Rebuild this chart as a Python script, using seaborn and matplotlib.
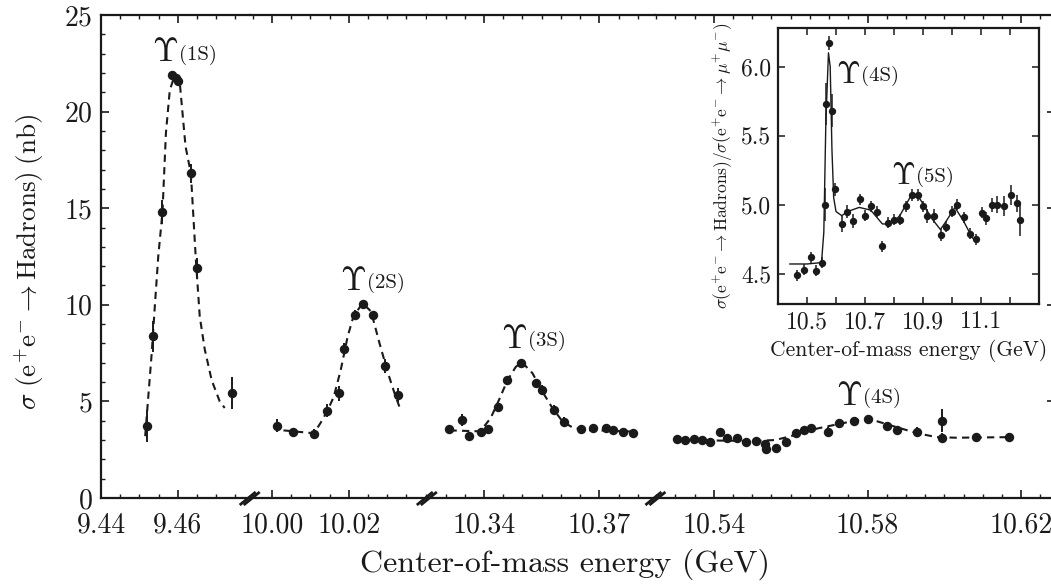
import matplotlib
matplotlib.use("Agg")
import matplotlib.pyplot as plt
import seaborn as sns
import numpy as np
from matplotlib.ticker import FixedLocator, MultipleLocator

# ---------------- data ----------------
# Segment 1: Upsilon(1S)
s1_x = [9.4519, 9.4536, 9.4560, 9.4586, 9.4594, 9.4600, 9.4634, 9.4649, 9.4740]
s1_y = [3.73, 8.36, 14.8, 21.9, 21.75, 21.6, 16.8, 11.9, 5.42]
s1_err = [0.85, 0.8, 0.6, 0.2, 0.2, 0.2, 0.5, 0.5, 0.82]
s1_fit_x = [9.4515, 9.4532, 9.4540, 9.4549, 9.4560, 9.4569, 9.4579, 9.4592, 9.4605,
            9.4620, 9.4634, 9.4647, 9.4657, 9.4670, 9.4688, 9.4709, 9.4722]
s1_fit_y = [3.2, 7.5, 9.9, 12.5, 14.8, 18.9, 21.1, 21.9, 21.5,
            18.2, 16.8, 12.3, 9.4, 7.7, 6.1, 5.0, 4.66]

# Segment 2: Upsilon(2S)
s2_x = [10.0012, 10.0056, 10.0109, 10.0144, 10.0175, 10.0188, 10.0216, 10.0238,
        10.0262, 10.0293, 10.0328]
s2_y = [3.75, 3.44, 3.32, 4.52, 5.42, 7.7, 9.48, 10.03, 9.48, 6.84, 5.34]
s2_err = [0.35, 0.2, 0.25, 0.35, 0.4, 0.3, 0.25, 0.2, 0.2, 0.35, 0.35]
s2_fit_x = [10.0030, 10.0109, 10.0126, 10.0144, 10.0161, 10.0179, 10.0197, 10.0212,
            10.0236, 10.0258, 10.0280, 10.0302, 10.0319, 10.0333]
s2_fit_y = [3.5, 3.35, 3.87, 4.5, 5.25, 6.63, 8.36, 9.4, 10.09, 9.65, 8.0, 6.46, 5.42, 4.65]

# Segment 3: Upsilon(3S)
s3_x = [10.3309, 10.3343, 10.3361, 10.3391, 10.3409, 10.3435, 10.3461, 10.3496,
        10.3535, 10.3552, 10.3583, 10.3609, 10.3652, 10.3683, 10.3718, 10.3735,
        10.3761, 10.3787]
s3_y = [3.56, 4.04, 3.21, 3.44, 3.56, 4.73, 6.11, 7.01, 5.94, 5.6, 4.56, 3.95,
        3.56, 3.61, 3.61, 3.52, 3.44, 3.38]
s3_err = [0.2, 0.3, 0.2, 0.2, 0.2, 0.2, 0.2, 0.15, 0.2, 0.25, 0.25, 0.25,
          0.2, 0.2, 0.2, 0.2, 0.2, 0.2]
s3_fit_x = [10.3310, 10.3390, 10.3417, 10.3439, 10.3461, 10.3483, 10.3500, 10.3526,
            10.3552, 10.3578, 10.3604, 10.3631, 10.3666, 10.3787]
s3_fit_y = [3.5, 3.45, 4.13, 5.08, 6.1, 6.8, 7.0, 6.46, 5.5, 4.65, 3.97, 3.64, 3.52, 3.44]

# Segment 4: Upsilon(4S)
s4_x = [10.5305, 10.5326, 10.5348, 10.5369, 10.5390, 10.5416, 10.5434, 10.5460,
        10.5485, 10.5511, 10.5532, 10.5537, 10.5563, 10.5588, 10.5614, 10.5636,
        10.5653, 10.5696, 10.5726, 10.5765, 10.5800, 10.5851, 10.5877, 10.5930,
        10.5993, 10.5993, 10.6083, 10.6169]
s4_y = [3.04, 3.0, 3.04, 3.0, 2.92, 3.44, 3.09, 3.09, 2.92, 2.97, 2.8, 2.52,
        2.57, 2.92, 3.35, 3.52, 3.61, 3.44, 3.87, 4.0, 4.08, 3.73, 3.52, 3.44,
        4.0, 3.09, 3.18, 3.18]
s4_err = [0.15, 0.15, 0.15, 0.15, 0.15, 0.2, 0.2, 0.15, 0.15, 0.15, 0.15, 0.2,
          0.2, 0.2, 0.2, 0.2, 0.2, 0.25, 0.2, 0.15, 0.15, 0.2, 0.2, 0.25,
          0.6, 0.25, 0.2, 0.2]
s4_fit_x = [10.5310, 10.5500, 10.5560, 10.5620, 10.5670, 10.5730, 10.5780, 10.5820,
            10.5870, 10.5930, 10.5980, 10.6030, 10.6170]
s4_fit_y = [3.0, 2.95, 3.0, 3.3, 3.6, 3.85, 4.05, 4.0, 3.7, 3.35, 3.15, 3.12, 3.15]

seg_limits = [(9.440, 9.4787), (9.9942, 10.0403), (10.3251, 10.3846), (10.5248, 10.6288)]
seg_ticks = [[9.44, 9.46], [10.00, 10.02], [10.34, 10.37], [10.54, 10.58, 10.62]]
seg_ticklabels = [["9.44", "9.46"], ["10.00", "10.02"], ["10.34", "10.37"],
                  ["10.54", "10.58", "10.62"]]
main_yticks = [0, 5, 10, 15, 20, 25]

peak_labels = ["(1S)", "(2S)", "(3S)", "(4S)"]
peak_label_x = [9.4566, 10.0210, 10.3478, 10.5751]
peak_label_y = [22.6, 10.78, 7.77, 4.82]

# Inset: R ratio around Upsilon(4S) and Upsilon(5S)
ins_x = [10.467, 10.489, 10.513, 10.530, 10.551, 10.562, 10.567, 10.576, 10.585,
         10.597, 10.620, 10.639, 10.659, 10.682, 10.700, 10.720, 10.743, 10.760,
         10.781, 10.800, 10.820, 10.840, 10.863, 10.884, 10.900, 10.915, 10.938,
         10.961, 10.980, 11.000, 11.017, 11.040, 11.063, 11.084, 11.102, 11.116,
         11.137, 11.156, 11.179, 11.202, 11.225, 11.236]
ins_y = [4.49, 4.53, 4.62, 4.52, 4.58, 5.00, 5.73, 6.17, 5.68,
         5.11, 4.86, 4.95, 4.88, 5.04, 4.92, 4.99, 4.95, 4.70,
         4.87, 4.89, 4.89, 4.99, 5.07, 5.07, 4.99, 4.92, 4.92,
         4.78, 4.84, 4.95, 5.00, 4.91, 4.79, 4.75, 4.94, 4.90,
         5.00, 5.00, 4.99, 5.07, 5.01, 4.89]
ins_err = [0.04, 0.04, 0.04, 0.04, 0.04, 0.12, 0.15, 0.05, 0.12,
           0.05, 0.06, 0.05, 0.05, 0.04, 0.04, 0.04, 0.04, 0.04,
           0.04, 0.04, 0.04, 0.04, 0.04, 0.04, 0.04, 0.05, 0.05,
           0.04, 0.04, 0.04, 0.04, 0.04, 0.04, 0.04, 0.04, 0.05,
           0.05, 0.06, 0.07, 0.07, 0.06, 0.12]
ins_fit_x = [10.44, 10.50, 10.55, 10.558, 10.565, 10.574, 10.580, 10.586, 10.592,
             10.60, 10.62, 10.64, 10.68, 10.72, 10.76, 10.79, 10.82, 10.86, 10.89,
             10.93, 10.96, 10.98, 11.01, 11.04, 11.07, 11.09]
ins_fit_y = [4.57, 4.57, 4.58, 4.8, 5.6, 6.1, 6.0, 5.4, 5.05,
             4.95, 4.92, 4.95, 4.98, 4.96, 4.86, 4.86, 4.92, 5.07, 5.04,
             4.9, 4.82, 4.88, 4.98, 4.88, 4.76, 4.73]
ins_xlim = (10.40, 11.30)
ins_ylim = (4.28, 6.28)
ins_xticks = [10.5, 10.7, 10.9, 11.1]
ins_yticks = [4.5, 5.0, 5.5, 6.0]
ins_labels = ["(4S)", "(5S)"]
ins_label_x = [10.641, 10.831]
ins_label_y = [5.88, 5.15]

# ---------------- style ----------------
sns.set_theme(style="ticks")
plt.rcParams["font.family"] = ["cmr10", "DejaVu Serif"]
plt.rcParams["mathtext.fontset"] = "cm"
plt.rcParams["axes.formatter.use_mathtext"] = True
plt.rcParams["axes.unicode_minus"] = False

INK = "#1a1a1a"
W, H = 1051, 587
fig = plt.figure(figsize=(W / 100, H / 100), dpi=100)
fig.patch.set_facecolor("white")

ratios = [b - a for a, b in seg_limits]
gs = fig.add_gridspec(1, 4, left=101 / W, right=1055 / W, bottom=1 - 498 / H,
                      top=1 - 15 / H, wspace=0, width_ratios=ratios)

seg_data = [(s1_x, s1_y, s1_err, s1_fit_x, s1_fit_y),
            (s2_x, s2_y, s2_err, s2_fit_x, s2_fit_y),
            (s3_x, s3_y, s3_err, s3_fit_x, s3_fit_y),
            (s4_x, s4_y, s4_err, s4_fit_x, s4_fit_y)]

axes = []
for i, (x, y, e, fx, fy) in enumerate(seg_data):
    ax = fig.add_subplot(gs[0, i])
    axes.append(ax)
    ax.set_facecolor("white")
    sns.lineplot(x=fx, y=fy, ax=ax, color=INK, linewidth=1.5, linestyle=(0, (3.5, 2.5)),
                 sort=False, estimator=None, zorder=2)
    ax.errorbar(x, y, yerr=e, fmt="none", ecolor=INK, elinewidth=1.4, capsize=0, zorder=3)
    sns.scatterplot(x=x, y=y, ax=ax, color=INK, s=46, linewidth=0, zorder=4)
    ax.set_xlim(*seg_limits[i])
    ax.set_ylim(0, 25)
    ax.xaxis.set_major_locator(FixedLocator(seg_ticks[i]))
    ax.set_xticklabels(seg_ticklabels[i])
    ax.xaxis.set_minor_locator(MultipleLocator(0.005))
    ax.set_yticks(main_yticks)
    ax.yaxis.set_minor_locator(MultipleLocator(1))
    for side in ["top", "bottom", "left", "right"]:
        ax.spines[side].set_linewidth(1.6)
        ax.spines[side].set_color(INK)
    ax.spines["left"].set_visible(i == 0)
    ax.spines["right"].set_visible(i == 3)
    ax.tick_params(which="both", direction="in", top=True, bottom=True,
                   left=(i == 0), right=(i == 3), labelleft=(i == 0),
                   colors=INK, labelsize=20)
    ax.tick_params(axis="x", pad=10)
    ax.tick_params(axis="y", pad=6)
    ax.tick_params(which="major", length=6, width=1.2)
    ax.tick_params(which="minor", length=3, width=1.0)
    ax.set_xlabel("")
    ax.set_ylabel("")
    # peak label
    t = ax.text(peak_label_x[i], peak_label_y[i], r"$\Upsilon$", fontsize=24,
                ha="center", va="baseline", color=INK)
    ax.annotate(peak_labels[i], xy=(1, 0), xycoords=t, xytext=(1, 2),
                textcoords="offset points", fontsize=15, ha="left", va="bottom", color=INK)

fig.text(30 / W, 1 - 262 / H,
         r"$\sigma\ (\mathrm{e^{+}e^{-}} \rightarrow \mathrm{Hadrons})\;(\mathrm{nb})$",
         rotation=90, ha="center", va="center", fontsize=19.5, color=INK)
fig.text(565 / W, 0.012, "Center-of-mass energy (GeV)", ha="center", va="bottom",
         fontsize=23, color=INK)

# break marks on the bottom axis
for ax in axes[1:]:
    pos = ax.get_position()
    x0, y0 = pos.x0, pos.y0
    for off in (-2.0, 2.0):
        fig.add_artist(plt.Line2D([x0 + (off - 8) / W, x0 + (off + 8) / W],
                                  [y0 - 7 / H, y0 + 6 / H], color=INK, lw=2.0,
                                  transform=fig.transFigure, solid_capstyle="butt"))

# ---------------- inset ----------------
ins = fig.add_axes([778 / W, 1 - 304 / H, (1039 - 778) / W, (304 - 28) / H])
ins.set_facecolor("white")
sns.lineplot(x=ins_fit_x, y=ins_fit_y, ax=ins, color=INK, linewidth=1.0,
             sort=False, estimator=None, zorder=2)
ins.errorbar(ins_x, ins_y, yerr=ins_err, fmt="none", ecolor=INK, elinewidth=1.1,
             capsize=0, zorder=3)
sns.scatterplot(x=ins_x, y=ins_y, ax=ins, color=INK, s=28, linewidth=0, zorder=4)
ins.set_xlim(*ins_xlim)
ins.set_ylim(*ins_ylim)
ins.xaxis.set_major_locator(FixedLocator(ins_xticks))
ins.set_xticklabels([f"{v:.1f}" for v in ins_xticks])
ins.xaxis.set_minor_locator(MultipleLocator(0.1))
ins.set_yticks(ins_yticks)
ins.set_yticklabels([f"{v:.1f}" for v in ins_yticks])
for side in ["top", "bottom", "left", "right"]:
    ins.spines[side].set_linewidth(1.6)
    ins.spines[side].set_color(INK)
ins.tick_params(which="both", direction="in", top=True, right=True, colors=INK,
                labelsize=17, length=5, width=1.1, pad=5)
ins.set_xlabel("Center-of-mass energy (GeV)", fontsize=15.5, color=INK, labelpad=4)
ins.set_ylabel(r"$\sigma(\mathrm{e^{+}e^{-}} \rightarrow \mathrm{Hadrons})/"
               r"\sigma(\mathrm{e^{+}e^{-}} \rightarrow \mu^{+}\mu^{-})$",
               fontsize=12.5, color=INK, labelpad=4)
for lab, lx, ly in zip(ins_labels, ins_label_x, ins_label_y):
    t = ins.text(lx, ly, r"$\Upsilon$", fontsize=22, ha="center", va="baseline", color=INK)
    ins.annotate(lab, xy=(1, 0), xycoords=t, xytext=(1, 2), textcoords="offset points",
                 fontsize=15, ha="left", va="bottom", color=INK)

fig.savefig("out.png", dpi=100, facecolor="white")
